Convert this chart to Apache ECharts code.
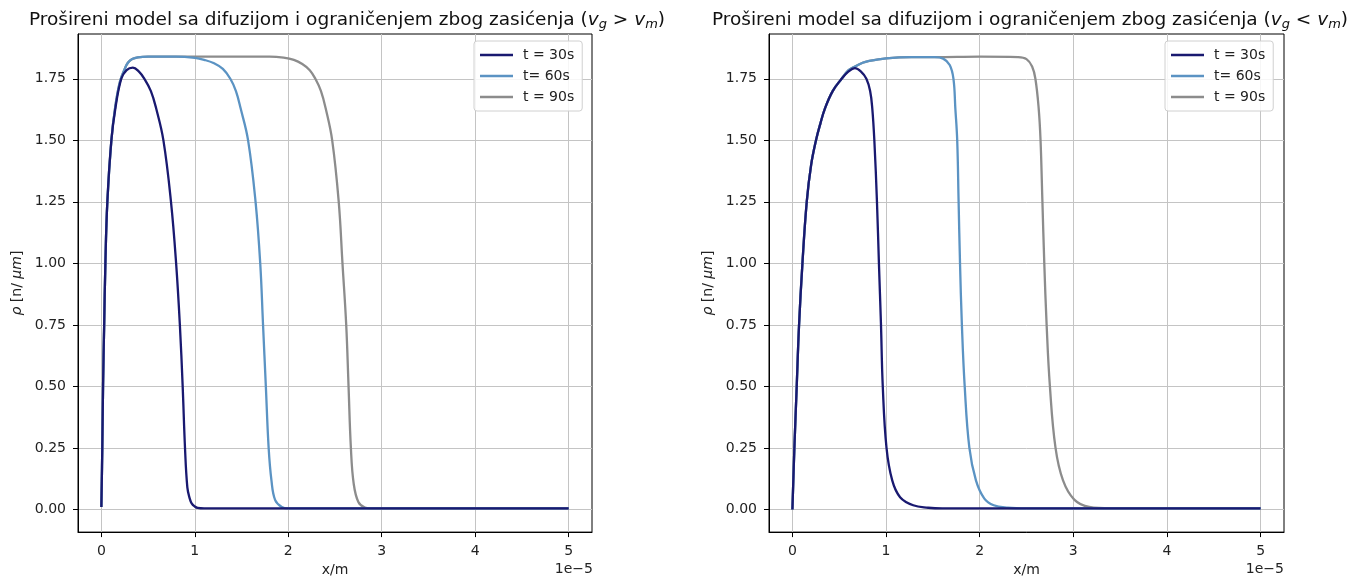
<!DOCTYPE html>
<html><head><meta charset="utf-8">
<script src="https://cdn.jsdelivr.net/npm/echarts@6/dist/echarts.min.js"></script>
<style>html,body{margin:0;padding:0;background:#fff}#c{width:1357px;height:582px}</style>
</head><body><div id="c"></div>
<script>
// x values in units of 1e-5 m, rho in n/µm
const names = ['t = 30s', 't= 60s', 't = 90s'];
const colors = ['#191970', '#5b93c3', '#8c8c8c'];
const xTicks = [0, 1, 2, 3, 4, 5];
const yTicks = [0, 0.25, 0.5, 0.75, 1.0, 1.25, 1.5, 1.75];

// Left panel (v_g > v_m)
const L30x = [0, 0.01, 0.018, 0.03, 0.043, 0.064, 0.107, 0.15, 0.213, 0.27, 0.337, 0.40, 0.46, 0.53, 0.586, 0.664, 0.745, 0.80, 0.84, 0.87, 0.895, 0.92, 0.945, 0.966, 1.0, 1.03, 1.1, 5.0];
const L30y = [0.01, 0.25, 0.5, 0.75, 1.0, 1.25, 1.5, 1.63, 1.75, 1.785, 1.795, 1.78, 1.75, 1.70, 1.63, 1.5, 1.25, 1.0, 0.75, 0.5, 0.25, 0.09, 0.045, 0.025, 0.012, 0.006, 0.004, 0.004];
const L60x = [0, 0.01, 0.018, 0.03, 0.043, 0.064, 0.107, 0.15, 0.2, 0.25, 0.284, 0.33, 0.39, 0.5, 0.8, 1.0, 1.1, 1.2, 1.3, 1.38, 1.44, 1.49, 1.57, 1.65, 1.70, 1.73, 1.76, 1.79, 1.82, 1.86, 1.93, 2.0, 5.0];
const L60y = [0.01, 0.25, 0.5, 0.75, 1.0, 1.25, 1.5, 1.64, 1.74, 1.79, 1.815, 1.83, 1.837, 1.84, 1.84, 1.835, 1.827, 1.814, 1.79, 1.75, 1.70, 1.63, 1.5, 1.25, 1.0, 0.75, 0.5, 0.25, 0.118, 0.038, 0.01, 0.004, 0.004];
const L90x = [0, 0.01, 0.018, 0.03, 0.043, 0.064, 0.107, 0.15, 0.2, 0.25, 0.284, 0.33, 0.39, 0.5, 1.8, 1.95, 2.06, 2.15, 2.23, 2.29, 2.35, 2.40, 2.47, 2.54, 2.58, 2.62, 2.645, 2.67, 2.70, 2.75, 2.82, 2.9, 5.0];
const L90y = [0.01, 0.25, 0.5, 0.75, 1.0, 1.25, 1.5, 1.64, 1.74, 1.79, 1.815, 1.83, 1.837, 1.84, 1.84, 1.836, 1.827, 1.81, 1.785, 1.75, 1.70, 1.63, 1.5, 1.25, 1.0, 0.75, 0.5, 0.25, 0.105, 0.03, 0.008, 0.004, 0.004];

// Right panel (v_g < v_m)
const R30x = [0, 0.021, 0.046, 0.071, 0.107, 0.153, 0.2, 0.252, 0.30, 0.348, 0.43, 0.526, 0.60, 0.668, 0.73, 0.79, 0.83, 0.853, 0.875, 0.903, 0.924, 0.946, 0.965, 1.005, 1.066, 1.15, 1.29, 1.45, 1.6, 5.0];
const R30y = [0, 0.25, 0.5, 0.75, 1.0, 1.25, 1.40, 1.5, 1.57, 1.63, 1.70, 1.75, 1.78, 1.793, 1.78, 1.75, 1.70, 1.63, 1.5, 1.25, 1.0, 0.75, 0.5, 0.25, 0.118, 0.05, 0.017, 0.007, 0.004, 0.004];
const R60x = [0, 0.021, 0.046, 0.071, 0.107, 0.153, 0.2, 0.252, 0.30, 0.348, 0.43, 0.526, 0.60, 0.668, 0.75, 0.81, 1.0, 1.27, 1.52, 1.61, 1.68, 1.72, 1.74, 1.76, 1.775, 1.79, 1.81, 1.84, 1.89, 1.96, 2.05, 2.15, 2.3, 2.5, 5.0];
const R60y = [0, 0.25, 0.5, 0.75, 1.0, 1.25, 1.40, 1.5, 1.57, 1.63, 1.70, 1.75, 1.785, 1.80, 1.815, 1.822, 1.833, 1.838, 1.838, 1.832, 1.806, 1.75, 1.63, 1.5, 1.25, 1.0, 0.75, 0.5, 0.25, 0.118, 0.044, 0.017, 0.007, 0.004, 0.004];
const R90x = [0, 0.021, 0.046, 0.071, 0.107, 0.153, 0.2, 0.252, 0.30, 0.348, 0.43, 0.526, 0.60, 0.668, 0.75, 0.81, 1.0, 1.27, 1.52, 2.0, 2.41, 2.5, 2.56, 2.595, 2.63, 2.65, 2.67, 2.69, 2.715, 2.75, 2.81, 2.89, 3.01, 3.17, 3.4, 5.0];
const R90y = [0, 0.25, 0.5, 0.75, 1.0, 1.25, 1.40, 1.5, 1.57, 1.63, 1.70, 1.75, 1.785, 1.80, 1.815, 1.822, 1.833, 1.838, 1.838, 1.84, 1.838, 1.83, 1.80, 1.75, 1.63, 1.5, 1.25, 1.0, 0.75, 0.5, 0.25, 0.118, 0.04, 0.01, 0.004, 0.004];

const pairs = (xs, ys) => xs.map((x, i) => [x, ys[i]]);
const FONT = 'DejaVu Sans';
const grids = [
  {left: 78, top: 34, width: 514, height: 501},
  {left: 769, top: 34, width: 515, height: 501}
];
const titleText = sign => 'Prošireni model sa difuzijom i ograničenjem zbog zasićenja ({i|v}{s|g} ' + sign + ' {i|v}{s|m})';
const titleRich = {
  i: {fontFamily: FONT, fontStyle: 'italic', fontSize: 18.5, color: '#111'},
  s: {fontFamily: FONT, fontStyle: 'italic', fontSize: 13, color: '#111', padding: [8, 0, 0, 0]}
};
function xAxis(gi) {
  return {
    type: 'value', gridIndex: gi, min: -0.25, max: 5.25,
    name: 'x/m', nameLocation: 'middle', nameGap: 30,
    nameTextStyle: {fontFamily: FONT, fontSize: 14, color: '#222'},
    axisLine: {show: true, onZero: false, lineStyle: {color: '#000', width: 1}},
    axisTick: {show: true, length: 5, customValues: xTicks, lineStyle: {color: '#000'}},
    axisLabel: {customValues: xTicks, margin: 12, fontFamily: FONT, fontSize: 14, color: '#222', formatter: v => String(Math.round(v))},
    splitLine: {show: true, lineStyle: {color: '#c4c4c4', width: 1}}
  };
}
function yAxis(gi) {
  return {
    type: 'value', gridIndex: gi, min: -0.092, max: 1.932,
    name: '{i|ρ} [n/ {i|μm}]', nameLocation: 'middle', nameGap: 54, nameRotate: 90,
    nameTextStyle: {fontFamily: FONT, fontSize: 14, color: '#222', rich: {i: {fontFamily: FONT, fontStyle: 'italic', fontSize: 14, color: '#222'}}},
    axisLine: {show: true, onZero: false, lineStyle: {color: '#000', width: 1}},
    axisTick: {show: true, length: 5, customValues: yTicks, lineStyle: {color: '#000'}},
    axisLabel: {customValues: yTicks, margin: 12, fontFamily: FONT, fontSize: 14, color: '#222', formatter: v => v.toFixed(2)},
    splitLine: {show: true, lineStyle: {color: '#c4c4c4', width: 1}}
  };
}
function line(name, color, data, gi) {
  return {
    type: 'line', name, xAxisIndex: gi, yAxisIndex: gi, data,
    showSymbol: false, symbol: 'none', smooth: 0.4,
    lineStyle: {color, width: 2.3}, itemStyle: {color}, animation: false
  };
}
function legend(left) {
  return {
    data: names, orient: 'vertical', left, top: 41, icon: 'rect',
    itemWidth: 33, itemHeight: 2.5, itemGap: 5, padding: [6, 8, 6, 6],
    backgroundColor: 'rgba(255,255,255,0.85)', borderColor: '#d0d0d0', borderWidth: 1, borderRadius: 3,
    textStyle: {fontFamily: FONT, fontSize: 14, color: '#222', padding: [0, 0, 0, 5], lineHeight: 16}
  };
}
const chart = echarts.init(document.getElementById('c'), null, {renderer: 'canvas'});
chart.setOption({
  animation: false,
  backgroundColor: '#fff',
  title: [
    {text: titleText('>'), left: 342, top: 5, textAlign: 'center', textStyle: {fontFamily: FONT, fontSize: 18.5, fontWeight: 'normal', color: '#111', rich: titleRich}},
    {text: titleText('<'), left: 1025, top: 5, textAlign: 'center', textStyle: {fontFamily: FONT, fontSize: 18.5, fontWeight: 'normal', color: '#111', rich: titleRich}}
  ],
  grid: grids.map(g => Object.assign({show: true, borderColor: '#000', borderWidth: 1, backgroundColor: '#fff', containLabel: false}, g)),
  xAxis: [xAxis(0), xAxis(1)],
  yAxis: [yAxis(0), yAxis(1)],
  legend: [legend(474), legend(1165)],
  graphic: [
    {type: 'text', right: 1357 - 593, top: 562, style: {text: '1e−5', font: '14px "DejaVu Sans"', fill: '#222'}},
    {type: 'text', right: 1357 - 1284, top: 562, style: {text: '1e−5', font: '14px "DejaVu Sans"', fill: '#222'}}
  ],
  series: [
    line(names[2], colors[2], pairs(L90x, L90y), 0),
    line(names[1], colors[1], pairs(L60x, L60y), 0),
    line(names[0], colors[0], pairs(L30x, L30y), 0),
    line(names[2], colors[2], pairs(R90x, R90y), 1),
    line(names[1], colors[1], pairs(R60x, R60y), 1),
    line(names[0], colors[0], pairs(R30x, R30y), 1)
  ]
});
</script></body></html>
